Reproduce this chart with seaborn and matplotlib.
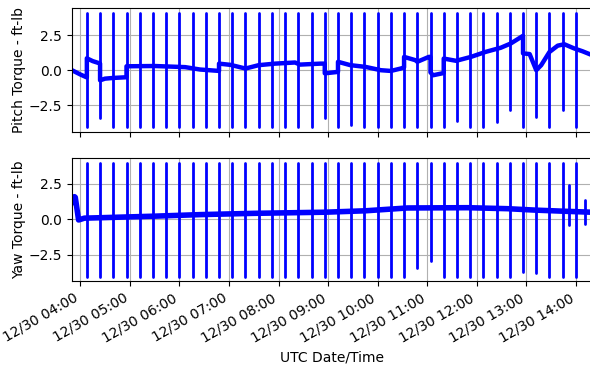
import matplotlib
matplotlib.use("Agg")
import matplotlib.pyplot as plt
import matplotlib.dates as mdates
import pandas as pd
import seaborn as sns

DAY = "2019-12-30"

# ---- spike (calibration pulse) times, every 16 min ----
spike_times = ["04:08", "04:24", "04:40", "04:56", "05:12", "05:28", "05:44", "06:00",
               "06:16", "06:32", "06:48", "07:04", "07:20", "07:36", "07:52", "08:08",
               "08:24", "08:40", "08:56", "09:12", "09:28", "09:44", "10:00", "10:16",
               "10:32", "10:48", "11:04", "11:20", "11:36", "11:52", "12:08", "12:24",
               "12:40", "12:56", "13:12", "13:28", "13:44", "14:00"]

pitch_spike_top = [4.05, 4.05, 4.05, 4.05, 4.05, 4.05, 4.05, 4.05,
                   4.05, 4.05, 4.05, 4.05, 4.05, 4.05, 4.05, 4.05,
                   4.05, 4.05, 4.05, 4.05, 4.05, 4.05, 4.05, 4.05,
                   4.05, 4.05, 4.05, 4.05, 4.05, 4.05, 4.05, 4.05,
                   4.05, 4.05, 4.05, 4.05, 4.05, 4.05]
pitch_spike_bottom = [-4.05, -3.4, -4.05, -4.05, -4.05, -4.05, -4.05, -4.05,
                      -4.05, -4.05, -4.05, -4.05, -4.05, -4.05, -4.05, -4.05,
                      -4.05, -4.05, -3.4, -4.05, -3.9, -4.05, -4.05, -4.05,
                      -4.05, -4.05, -4.05, -4.05, -3.6, -4.05, -4.05, -3.7,
                      -2.86, -4.05, -3.3, -4.05, -2.86, -4.05]

yaw_spike_times = spike_times + ["13:52", "14:11"]
yaw_spike_top = [4.0, 4.0, 4.0, 4.0, 4.0, 4.0, 4.0, 4.0,
                 4.0, 4.0, 4.0, 4.0, 4.0, 4.0, 4.0, 4.0,
                 4.0, 4.0, 4.0, 4.0, 4.0, 4.0, 4.0, 4.0,
                 4.0, 4.0, 4.0, 4.0, 4.0, 4.0, 4.0, 4.0,
                 4.0, 4.0, 4.0, 4.0, 4.0, 4.0, 2.4, 1.34]
yaw_spike_bottom = [-4.05, -4.05, -4.05, -4.05, -4.05, -4.05, -4.05, -4.05,
                    -4.05, -4.05, -4.05, -4.05, -4.05, -4.05, -4.05, -4.05,
                    -4.05, -4.05, -4.05, -4.05, -4.05, -4.05, -4.05, -4.05,
                    -4.05, -3.47, -2.96, -4.05, -4.05, -4.05, -4.05, -4.05,
                    -4.05, -3.7, -3.8, -4.05, -4.05, -4.05, -0.42, -0.3]

# ---- baseline traces ----
pitch_base_times = ["03:50", "04:00", "04:07:30", "04:08", "04:08", "04:15", "04:24", "04:24",
                    "04:30", "04:40", "04:56", "04:56", "05:30", "06:07", "06:25", "06:48",
                    "06:48", "07:02", "07:20", "07:36", "07:56", "08:20", "08:26", "08:51",
                    "08:56", "08:56", "09:12", "09:12", "09:27", "09:45", "10:04", "10:16",
                    "10:28", "10:32", "10:32", "10:46", "10:48", "11:02", "11:04", "11:04",
                    "11:07", "11:20", "11:20", "11:35", "11:53", "12:11", "12:29", "12:41",
                    "12:56", "12:56", "13:04", "13:12", "13:18", "13:28", "13:38", "13:46",
                    "13:58", "14:08", "14:18:30"]
pitch_base_values = [0.0, -0.3, -0.5, -0.5, 0.85, 0.65, 0.48, -0.72,
                     -0.6, -0.55, -0.5, 0.28, 0.3, 0.22, 0.05, -0.05,
                     0.47, 0.38, 0.12, 0.36, 0.47, 0.55, 0.4, 0.47,
                     0.47, -0.22, -0.12, 0.6, 0.36, 0.24, 0.0, -0.05,
                     0.12, 0.2, 0.95, 0.71, 0.6, 0.95, 0.95, -0.15,
                     -0.36, -0.2, 0.83, 0.67, 0.95, 1.31, 1.6, 1.9,
                     2.45, 1.2, 1.15, 0.0, 0.36, 1.3, 1.75, 1.85,
                     1.55, 1.35, 1.1]

yaw_base_times = ["03:50", "03:53", "03:54", "03:58", "04:05", "04:30", "05:30", "06:25",
                  "07:30", "08:56", "09:45", "10:36", "11:49", "12:37", "13:10", "13:50",
                  "14:18:30"]
yaw_base_values = [1.15, 1.6, 1.55, -0.05, 0.08, 0.12, 0.22, 0.33,
                   0.42, 0.5, 0.6, 0.8, 0.82, 0.75, 0.65, 0.56,
                   0.5]

x_start, x_end = "03:50", "14:18:30"


def ts(s):
    return pd.Timestamp(f"{DAY} {s}")


def spikes_frame(times, tops, bottoms):
    rows = []
    for i, (t, hi, lo) in enumerate(zip(times, tops, bottoms)):
        rows.append({"time": ts(t), "value": hi, "spike": i})
        rows.append({"time": ts(t), "value": lo, "spike": i})
    return pd.DataFrame(rows)


def base_frame(times, values):
    return pd.DataFrame({"time": [ts(t) for t in times], "value": values})


sns.set_style("ticks", {
    "axes.grid": True,
    "grid.color": "#b0b0b0",
    "axes.edgecolor": "black",
    "xtick.color": "black",
    "ytick.color": "black",
    "text.color": "black",
    "axes.labelcolor": "black",
})
plt.rcParams["font.family"] = ["DejaVu Sans"]
plt.rcParams["font.size"] = 10
plt.rcParams["grid.linewidth"] = 0.8
plt.rcParams["axes.linewidth"] = 0.8

fig, (ax1, ax2) = plt.subplots(2, 1, sharex=True, figsize=(5.9, 3.65), dpi=100)

panels = [
    (ax1, pitch_base_times, pitch_base_values, spike_times, pitch_spike_top, pitch_spike_bottom,
     "Pitch Torque - ft-lb", (-4.37, 4.43), 3.2),
    (ax2, yaw_base_times, yaw_base_values, yaw_spike_times, yaw_spike_top, yaw_spike_bottom,
     "Yaw Torque - ft-lb", (-4.37, 4.37), 4.0),
]

for ax, bt, bv, st, stop, sbot, ylabel, ylim, blw in panels:
    sns.lineplot(data=base_frame(bt, bv), x="time", y="value", estimator=None, sort=False,
                 color="blue", lw=blw, ax=ax, legend=False)
    sns.lineplot(data=spikes_frame(st, stop, sbot), x="time", y="value", units="spike",
                 estimator=None, sort=False, color="blue", lw=2.0, ax=ax, legend=False)
    ax.set_ylim(*ylim)
    ax.set_yticks([-2.5, 0.0, 2.5])
    ax.set_ylabel(ylabel, fontsize=10, labelpad=2)
    ax.set_xlabel("")
    ax.tick_params(axis="both", labelsize=10, length=3.5, width=0.8, direction="out")
    ax.grid(True, color="#b0b0b0", linewidth=0.8)

ax2.xaxis.set_major_locator(mdates.HourLocator())
ax2.xaxis.set_major_formatter(mdates.DateFormatter("%m/%d %H:%M"))
ax2.set_xlim(ts(x_start), ts(x_end))
ax2.set_xlabel("UTC Date/Time", fontsize=10)

fig.autofmt_xdate(rotation=30, ha="right")
fig.subplots_adjust(left=0.122, right=1.002, top=0.978, bottom=0.230, hspace=0.21)

fig.savefig("out.png", dpi=100)
